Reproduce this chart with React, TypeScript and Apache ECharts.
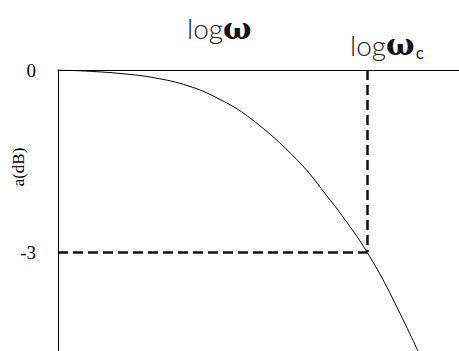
import React, { useEffect, useRef } from "react";
import * as echarts from "echarts";

// Response curve: x in log-frequency units, y in dB
const logW = [0, 0.3, 0.64, 0.97, 1.3, 1.59, 1.92, 2.39, 2.72, 2.95, 3.09, 3.29, 3.6];
const gainDb = [0, -0.02, -0.06, -0.13, -0.26, -0.46, -0.79, -1.48, -2.14, -2.65, -3.0, -3.58, -4.63];

// Cut-off point
const cutoffLogW = 3.09;
const cutoffDb = -3;

// Labelled y ticks
const yTicks = [0, -3];

const App: React.FC = () => {
  const ref = useRef<HTMLDivElement>(null);

  useEffect(() => {
    document.body.style.margin = "0";
    if (!ref.current) return;
    const chart = echarts.init(ref.current, undefined, { renderer: "svg" });
    const serif = "Liberation Serif";
    const sans = "Lato";
    const dashed = { color: "#111", width: 2.5, type: [10, 5] as number[] };

    chart.setOption({
      animation: false,
      backgroundColor: "#fff",
      grid: { left: 58, top: 70, right: 0, bottom: 0 },
      xAxis: {
        type: "value",
        position: "top",
        min: 0,
        max: 4.01,
        axisLine: { show: true, onZero: false, lineStyle: { color: "#000", width: 1 } },
        axisTick: { show: false },
        axisLabel: { show: false },
        splitLine: { show: false },
      },
      yAxis: {
        type: "value",
        min: -4.63,
        max: 0,
        axisLine: { show: true, onZero: false, lineStyle: { color: "#000", width: 1 } },
        axisTick: { show: false },
        axisLabel: {
          customValues: yTicks,
          margin: 22,
          color: "#000",
          fontFamily: serif,
          fontSize: 19,
          formatter: (v: number) => String(v),
        },
        splitLine: { show: false },
      },
      graphic: [
        {
          type: "text",
          x: 18,
          y: 167,
          rotation: Math.PI / 2,
          style: {
            text: "a(dB)",
            fontFamily: serif,
            fontSize: 17,
            fill: "#000",
            align: "center",
            verticalAlign: "middle",
          },
        },
        {
          type: "text",
          x: 187,
          y: 13,
          style: {
            text: "{l|log}{w|ω}",
            verticalAlign: "top",
            rich: {
              l: { fontFamily: sans, fontSize: 28, fill: "#222", fontWeight: 300 },
              w: { fontFamily: "DejaVu Serif", fontSize: 30, fill: "#111", fontWeight: "bold" },
            },
          },
        },
        {
          type: "text",
          x: 350,
          y: 28,
          style: {
            text: "{l|log}{w|ω}{s|c}",
            verticalAlign: "top",
            rich: {
              l: { fontFamily: sans, fontSize: 28, fill: "#222", fontWeight: 300 },
              w: { fontFamily: "DejaVu Serif", fontSize: 30, fill: "#111", fontWeight: "bold" },
              s: { fontFamily: sans, fontSize: 17, fill: "#222", padding: [16, 0, 0, 1] },
            },
          },
        },
      ],
      series: [
        {
          type: "line",
          data: logW.map((x, i) => [x, gainDb[i]]),
          smooth: 0.4,
          showSymbol: false,
          lineStyle: { color: "#000", width: 1 },
          markLine: {
            silent: true,
            symbol: "none",
            label: { show: false },
            lineStyle: dashed,
            data: [
              [{ coord: [0, cutoffDb] }, { coord: [cutoffLogW, cutoffDb] }],
              [{ coord: [cutoffLogW, 0] }, { coord: [cutoffLogW, cutoffDb] }],
            ],
          },
        },
      ],
    });
    return () => chart.dispose();
  }, []);

  return <div ref={ref} style={{ width: 459, height: 351 }} />;
};

export default App;
